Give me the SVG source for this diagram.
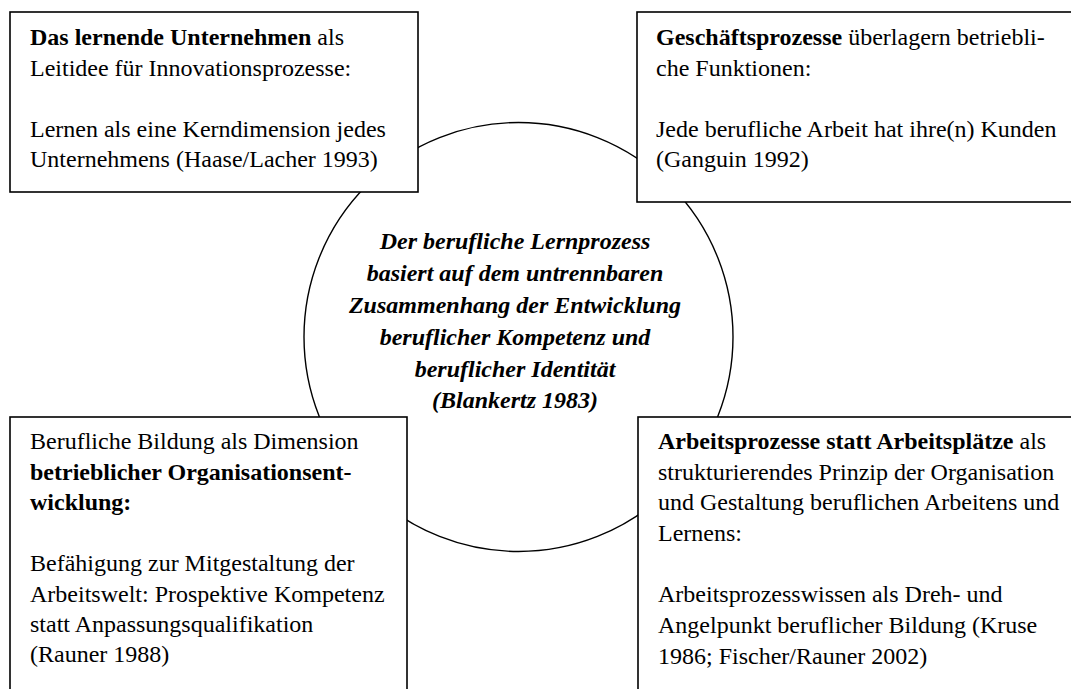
<svg xmlns="http://www.w3.org/2000/svg" width="1071" height="689" viewBox="0 0 1071 689">
<style>
.box{fill:#fff;stroke:#000;stroke-width:1.6}
.ring{fill:#fff;stroke:#000;stroke-width:1.4}
.t{font-family:'Liberation Serif','Times New Roman',serif;font-size:24px;fill:#000}
.b{font-weight:bold}
.c{font-weight:bold;font-style:italic;text-anchor:middle}
</style>
<rect width="1071" height="689" fill="#fff"/>
<g id="connectors"></g>
<g class="t" font-family="Liberation Serif" font-size="24">
<g id="center">
<circle class="ring" cx="518.5" cy="337" r="214.5"/>
<text class="c" x="515" y="249">Der berufliche Lernprozess</text>
<text class="c" x="515" y="281">basiert auf dem untrennbaren</text>
<text class="c" x="515" y="313">Zusammenhang der Entwicklung</text>
<text class="c" x="515" y="345">beruflicher Kompetenz und</text>
<text class="c" x="515" y="377">beruflicher Identität</text>
<text class="c" x="515" y="408">(Blankertz 1983)</text>
</g>
<g id="top-left">
<rect class="box" x="10" y="12" width="408" height="180"/>
<text x="30" y="45"><tspan class="b">Das lernende Unternehmen</tspan> als</text>
<text x="30" y="76">Leitidee für Innovationsprozesse:</text>
<text x="30" y="137">Lernen als eine Kerndimension jedes</text>
<text x="30" y="167">Unternehmens (Haase/Lacher 1993)</text>
</g>
<g id="top-right">
<rect class="box" x="637" y="12" width="450" height="190"/>
<text x="656" y="45"><tspan class="b">Geschäftsprozesse</tspan> überlagern betriebli-</text>
<text x="656" y="76">che Funktionen:</text>
<text x="656" y="137">Jede berufliche Arbeit hat ihre(n) Kunden</text>
<text x="656" y="167">(Ganguin 1992)</text>
</g>
<g id="bottom-left">
<rect class="box" x="10" y="417" width="397" height="290"/>
<text x="30" y="449">Berufliche Bildung als Dimension</text>
<text class="b" x="30" y="480">betrieblicher Organisationsent-</text>
<text class="b" x="30" y="510">wicklung:</text>
<text x="30" y="571">Befähigung zur Mitgestaltung der</text>
<text x="30" y="602">Arbeitswelt: Prospektive Kompetenz</text>
<text x="30" y="632">statt Anpassungsqualifikation</text>
<text x="30" y="662">(Rauner 1988)</text>
</g>
<g id="bottom-right">
<rect class="box" x="638" y="417" width="450" height="290"/>
<text x="658" y="449"><tspan class="b">Arbeitsprozesse statt Arbeitsplätze</tspan> als</text>
<text x="658" y="480">strukturierendes Prinzip der Organisation</text>
<text x="658" y="510">und Gestaltung beruflichen Arbeitens und</text>
<text x="658" y="541">Lernens:</text>
<text x="658" y="602">Arbeitsprozesswissen als Dreh- und</text>
<text x="658" y="633">Angelpunkt beruflicher Bildung (Kruse</text>
<text x="658" y="664">1986; Fischer/Rauner 2002)</text>
</g>
</g>
</svg>
